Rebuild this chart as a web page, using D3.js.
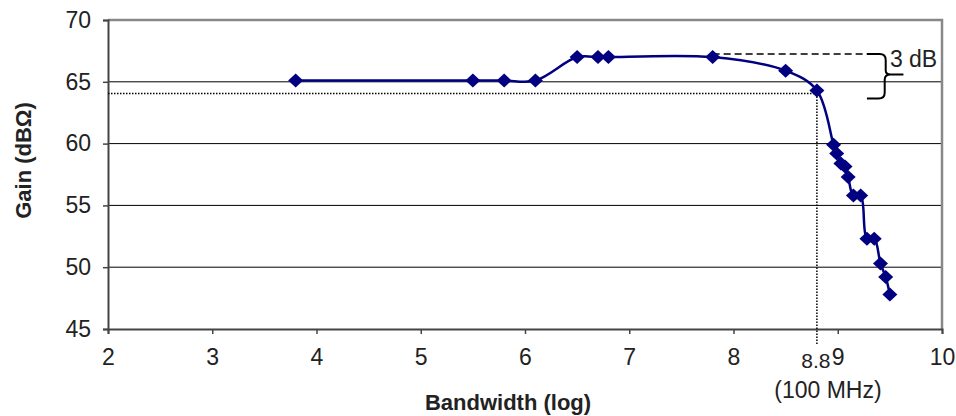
<!DOCTYPE html>
<html>
<head>
<meta charset="utf-8">
<script src="https://cdn.jsdelivr.net/npm/d3@7"></script>
<style>
  body { margin: 0; background: #fff; }
  text { font-family: "Liberation Sans", Arial, sans-serif; fill: #222; }
</style>
</head>
<body>
<div id="chart"></div>
<script>
// measured values (bandwidth in log10 Hz, gain in dB ohm)
const bandwidth = [3.8, 5.5, 5.8, 6.1, 6.5, 6.7, 6.8, 7.8, 8.5, 8.8,
  8.96, 8.99, 9.03, 9.07, 9.10, 9.15, 9.22, 9.28, 9.35, 9.41, 9.46, 9.5];
const gain = [65.1, 65.1, 65.1, 65.1, 67.0, 67.0, 67.0, 67.0, 65.9, 64.3,
  59.9, 59.2, 58.4, 58.15, 57.3, 55.8, 55.8, 52.3, 52.3, 50.3, 49.2, 47.8];

const xTicks = [2, 3, 4, 5, 6, 7, 8, 9, 10];
const yTicks = [45, 50, 55, 60, 65, 70];

// -3 dB annotation
const refLevel = 67.25;     // dashed reference
const cutLevel = 64.05;     // dotted -3 dB level
const cutBandwidth = 8.8;
const braceX = [9.28, 9.46, 9.63];
const braceY = [67.25, 65.6, 63.65];

const margin = { top: 20, right: 14, bottom: 87, left: 108 };
const width = 956 - margin.left - margin.right;
const height = 416 - margin.top - margin.bottom;

const svg = d3.select("#chart").append("svg")
  .attr("width", 956)
  .attr("height", 416);
const g = svg.append("g")
  .attr("transform", "translate(" + margin.left + "," + margin.top + ")");

const x = d3.scaleLinear().domain([2, 10]).range([0, width]);
const y = d3.scaleLinear().domain([45, 70]).range([height, 0]);

// gridlines
g.selectAll(".grid")
  .data(yTicks.filter(d => d > 45 && d < 70))
  .join("line")
  .attr("x1", 0).attr("x2", width)
  .attr("y1", d => y(d)).attr("y2", d => y(d))
  .attr("stroke", "#000").attr("stroke-width", 1);

// plot border (top, right)
g.append("path")
  .attr("d", "M0," + y(70) + "H" + width + "V" + height)
  .attr("fill", "none").attr("stroke", "#888").attr("stroke-width", 2.5);

// axes
const xAxis = g.append("g")
  .attr("transform", "translate(0," + height + ")")
  .call(d3.axisBottom(x).tickValues(xTicks).tickSize(5).tickPadding(15));
const yAxis = g.append("g")
  .call(d3.axisLeft(y).tickValues(yTicks).tickSize(5).tickPadding(12));
[xAxis, yAxis].forEach(a => {
  a.select(".domain").attr("stroke", "#444").attr("stroke-width", 2);
  a.selectAll(".tick line").attr("stroke", "#444").attr("stroke-width", 1.5);
  a.selectAll(".tick text").style("font-size", "23px")
    .style("font-family", "'Liberation Sans', Arial, sans-serif").attr("fill", "#222");
});

// annotations
g.append("line")
  .attr("x1", x(7.8)).attr("x2", x(braceX[0]))
  .attr("y1", y(refLevel)).attr("y2", y(refLevel))
  .attr("stroke", "#000").attr("stroke-width", 1.5).attr("stroke-dasharray", "7,4");
g.append("line")
  .attr("x1", 0).attr("x2", x(cutBandwidth))
  .attr("y1", y(cutLevel)).attr("y2", y(cutLevel))
  .attr("stroke", "#000").attr("stroke-width", 1.5).attr("stroke-dasharray", "1.5,1.5");
g.append("line")
  .attr("x1", x(cutBandwidth)).attr("x2", x(cutBandwidth))
  .attr("y1", y(64.3)).attr("y2", height + 16)
  .attr("stroke", "#000").attr("stroke-width", 1.5).attr("stroke-dasharray", "1.5,1.5");

// curly brace
const bx0 = x(braceX[0]), bx1 = x(braceX[1]), bx2 = x(braceX[2]);
const by0 = y(braceY[0]), by1 = y(braceY[1]), by2 = y(braceY[2]);
g.append("path")
  .attr("d",
    "M" + bx0 + "," + by0 + "H" + (bx1 - 6) +
    "Q" + bx1 + "," + by0 + " " + bx1 + "," + (by0 + 6) +
    "V" + (by1 - 4) +
    "Q" + bx1 + "," + by1 + " " + (bx1 + 5) + "," + by1 +
    "H" + bx2 +
    "M" + (bx1 + 5) + "," + by1 +
    "Q" + (bx1 - 1) + "," + by1 + " " + (bx1 - 1) + "," + (by1 + 5) +
    "V" + (by2 - 6) +
    "Q" + (bx1 - 1) + "," + by2 + " " + (bx1 - 7) + "," + by2 +
    "H" + bx0)
  .attr("fill", "none").attr("stroke", "#000").attr("stroke-width", 2);

g.append("text")
  .attr("x", x(9.5)).attr("y", y(66.2))
  .style("font-size", "23px")
  .text("3 dB");

g.append("text")
  .attr("x", x(cutBandwidth) - 1).attr("y", height + 39)
  .attr("text-anchor", "middle")
  .style("font-size", "21px")
  .text("8.8");
g.append("text")
  .attr("x", x(cutBandwidth) + 11).attr("y", height + 69)
  .attr("text-anchor", "middle")
  .style("font-size", "23px")
  .text("(100 MHz)");

// data line
const points = bandwidth.map((b, i) => [b, gain[i]]);
const line = d3.line()
  .x(d => x(d[0]))
  .y(d => y(d[1]))
  .curve(d3.curveCatmullRom.alpha(0.5));
g.append("path")
  .datum(points)
  .attr("d", line)
  .attr("fill", "none")
  .attr("stroke", "#000080")
  .attr("stroke-width", 2.5);

// diamond markers
g.selectAll(".marker")
  .data(points)
  .join("path")
  .attr("class", "marker")
  .attr("transform", d => "translate(" + x(d[0]) + "," + y(d[1]) + ")")
  .attr("d", "M0,-7L7.5,0L0,7L-7.5,0Z")
  .attr("fill", "#000080");

// axis titles
svg.append("text")
  .attr("transform", "translate(31," + (margin.top + height / 2 - 14) + ") rotate(-90)")
  .attr("text-anchor", "middle")
  .style("font-size", "22px").style("font-weight", "bold")
  .text("Gain (dBΩ)");
svg.append("text")
  .attr("x", 508).attr("y", 410)
  .attr("text-anchor", "middle")
  .style("font-size", "22px").style("font-weight", "bold")
  .text("Bandwidth (log)");
</script>
</body>
</html>
